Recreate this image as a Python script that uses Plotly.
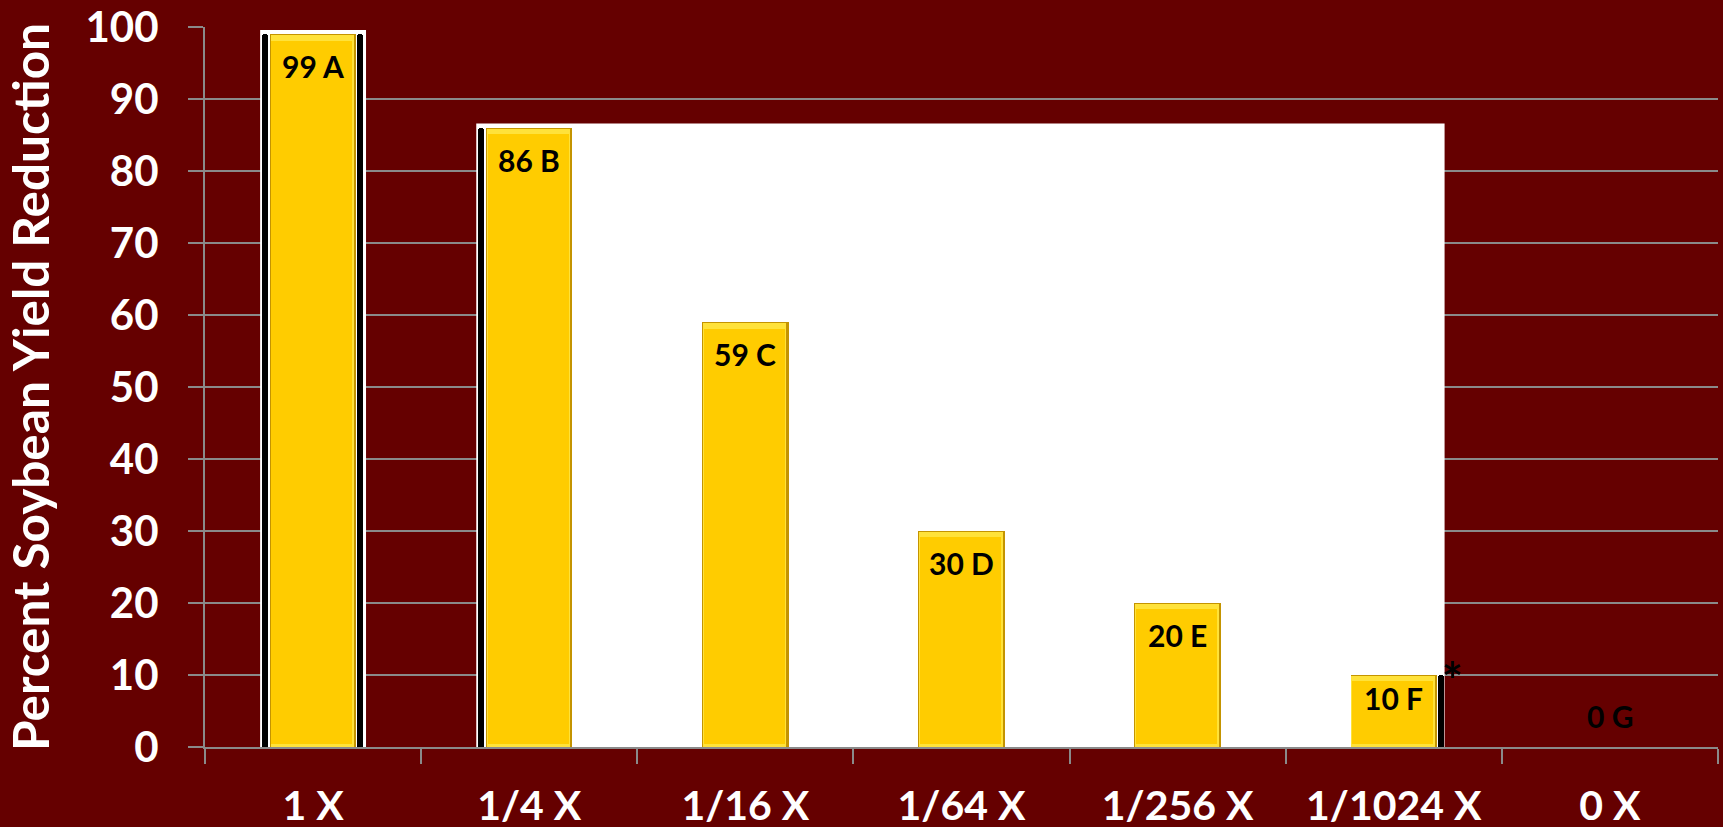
import plotly.graph_objects as go

# ---- data ----
categories = ["1 X", "1/4 X", "1/16 X", "1/64 X", "1/256 X", "1/1024 X", "0 X"]
values = [99, 86, 59, 30, 20, 10, 0]
letters = ["A", "B", "C", "D", "E", "F", "G"]
y_ticks = [0, 10, 20, 30, 40, 50, 60, 70, 80, 90, 100]
# backing panels (groups of category indices)
panel_groups = [[0], [1, 2, 3, 4, 5]]
starred_index = 5

BG = "#650000"
GRID = "#8a8a8a"
FONT = "Lato"

fig = go.Figure()

# bars: dark edge, top highlight, main face
fig.add_trace(go.Bar(x=categories, y=values, offset=-0.2, width=0.4,
                     marker=dict(color="#c49400", line=dict(width=0)),
                     hoverinfo="skip", showlegend=False))
fig.add_trace(go.Bar(x=categories, y=[max(v - 0.15, 0) for v in values],
                     offset=-0.196, width=0.386,
                     marker=dict(color="#ffe23a", line=dict(width=0)),
                     hoverinfo="skip", showlegend=False))
fig.add_trace(go.Bar(x=categories, y=[max(v - 1.3, 0) for v in values], base=0.4,
                     offset=-0.193, width=0.375,
                     marker=dict(color="#ffcc00", line=dict(width=0)),
                     hoverinfo="skip", showlegend=False))

# black side strips at the edges of each backing panel
strip_x, strip_y, strip_off = [], [], []
for g in panel_groups:
    first, last = g[0], g[-1]
    strip_x.append(categories[first]); strip_y.append(values[first]); strip_off.append(-0.236)
    strip_x.append(categories[last]); strip_y.append(values[last]); strip_off.append(0.204)
fig.add_trace(go.Bar(x=strip_x, y=strip_y, offset=strip_off, width=0.029,
                     marker=dict(color="black", line=dict(width=0), cornerradius=3),
                     hoverinfo="skip", showlegend=False))

# white backing panels
shapes = []
for g in panel_groups:
    top = max(values[i] for i in g) + 0.6
    shapes.append(dict(type="rect", xref="x", yref="y", layer="between",
                       x0=g[0] - 0.245, x1=g[-1] + (0.245 if len(g) == 1 else 0.235),
                       y0=-1, y1=top, fillcolor="white", line=dict(width=0)))

# value labels
annotations = []
for i, (v, l) in enumerate(zip(values, letters)):
    if v >= 20:
        ys = -32
    elif v > 0:
        ys = -23
    else:
        ys = 31
    annotations.append(dict(x=i, y=v, xref="x", yref="y", text=f"{v} {l}",
                            showarrow=False, yshift=ys, yanchor="middle",
                            font=dict(family=FONT, size=30, color="black", weight="bold")))
annotations.append(dict(x=starred_index + 0.272, y=values[starred_index], xref="x", yref="y",
                        text="*", showarrow=False, yanchor="middle", yshift=-5,
                        font=dict(family=FONT, size=50, color="black", weight="bold")))

fig.update_layout(
    width=1723, height=827,
    paper_bgcolor=BG, plot_bgcolor=BG,
    margin=dict(l=205, r=5, t=27, b=80),
    barmode="overlay",
    bargap=0,
    shapes=shapes,
    annotations=annotations,
    showlegend=False,
    xaxis=dict(type="category", categoryorder="array", categoryarray=categories,
               range=[-0.5, 6.5], showgrid=False, automargin=False,
               showline=True, linecolor=GRID, linewidth=2,
               ticks="outside", tickson="boundaries", ticklen=15, tickwidth=2, tickcolor=GRID,
               tickfont=dict(family=FONT, size=41, color="white", weight="bold"),
               ticklabelstandoff=22, fixedrange=True),
    yaxis=dict(range=[0, 100], tickvals=y_ticks, showgrid=True, gridcolor=GRID, gridwidth=2,
               zeroline=False, showline=True, linecolor=GRID, linewidth=2, automargin=False,
               ticks="outside", ticklen=15, tickwidth=2, tickcolor=GRID,
               tickfont=dict(family=FONT, size=42, color="white", weight="bold"),
               ticklabelstandoff=21,
               title=dict(text="Percent Soybean Yield Reduction", standoff=31,
                          font=dict(family=FONT, size=49.5, color="white", weight="bold")),
               fixedrange=True),
)

fig.write_html("out.html", config={"displayModeBar": False},
               post_script="document.body.style.margin='0';")
